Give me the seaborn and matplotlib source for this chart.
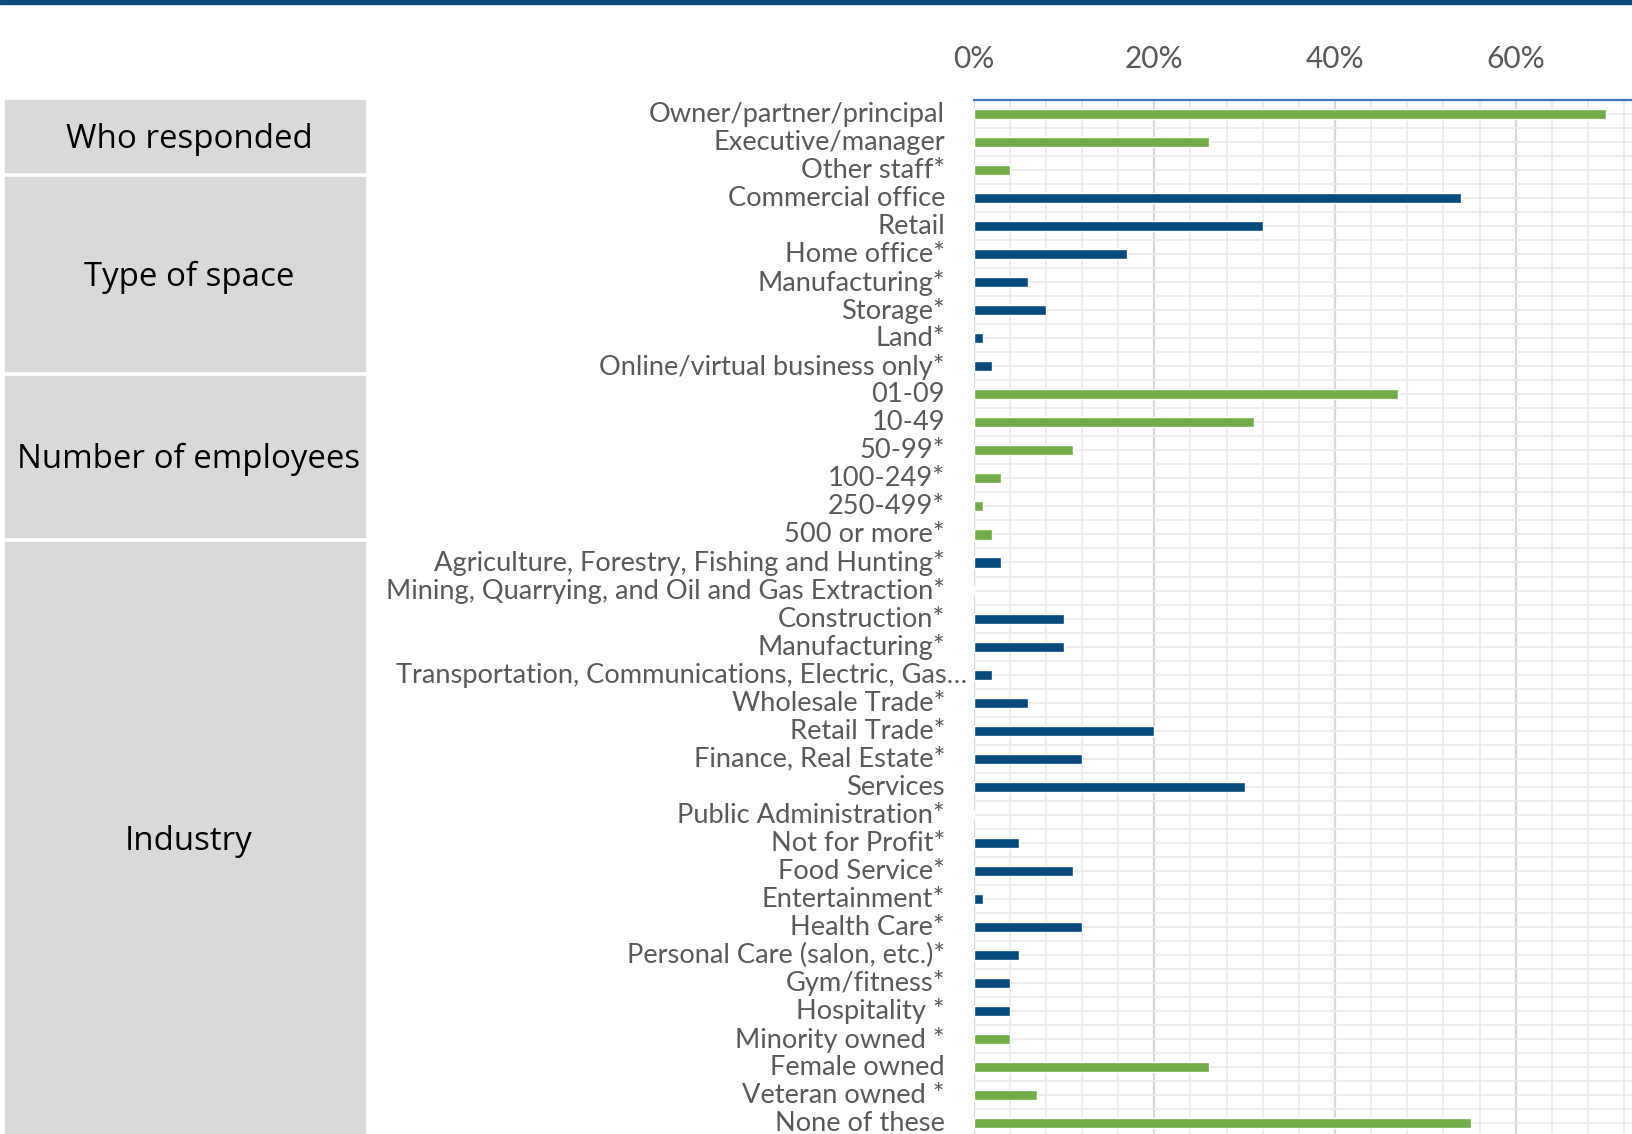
import matplotlib
matplotlib.use("Agg")
import matplotlib.pyplot as plt
import matplotlib.ticker as mticker
from matplotlib.patches import Rectangle
from matplotlib.transforms import ScaledTranslation
import numpy as np
import pandas as pd
import seaborn as sns

# ---- data -------------------------------------------------------------
labels = [
    "Owner/partner/principal", "Executive/manager", "Other staff*",
    "Commercial office", "Retail", "Home office*", "Manufacturing*", "Storage*",
    "Land*", "Online/virtual business only*",
    "01-09", "10-49", "50-99*", "100-249*", "250-499*", "500 or more*",
    "Agriculture, Forestry, Fishing and Hunting*",
    "Mining, Quarrying, and Oil and Gas Extraction*",
    "Construction*", "Manufacturing*",
    "Transportation, Communications, Electric, Gas\u2026",
    "Wholesale Trade*", "Retail Trade*", "Finance, Real Estate*", "Services",
    "Public Administration*", "Not for Profit*", "Food Service*",
    "Entertainment*", "Health Care*", "Personal Care (salon, etc.)*",
    "Gym/fitness*", "Hospitality *",
    "Minority owned *", "Female owned", "Veteran owned *", "None of these",
]
values = [
    0.70, 0.26, 0.04,
    0.54, 0.32, 0.17, 0.06, 0.08, 0.01, 0.02,
    0.47, 0.31, 0.11, 0.03, 0.01, 0.02,
    0.03, 0.00, 0.10, 0.10, 0.02, 0.06, 0.20, 0.12, 0.30,
    0.00, 0.05, 0.11, 0.01, 0.12, 0.05, 0.04, 0.04,
    0.04, 0.26, 0.07, 0.55,
]
groups = (["respondent"] * 3 + ["space"] * 7 + ["employees"] * 6
          + ["industry"] * 17 + ["ownership"] * 4)
group_colors = {
    "respondent": "#70ad47", "employees": "#70ad47", "ownership": "#70ad47",
    "space": "#044a7d", "industry": "#044a7d",
}
panel_titles = ["Who responded", "Type of space", "Number of employees", "Industry"]
x_ticks = [0.0, 0.2, 0.4, 0.6]

df = pd.DataFrame({"row": np.arange(len(labels)), "share": values, "group": groups})

# ---- figure -----------------------------------------------------------
W, H = 1633, 1134
fig = plt.figure(figsize=(W / 100, H / 100), dpi=100)
sns.set_style("white")
plt.rcParams["font.family"] = ["Lato", "DejaVu Sans"]

ax_left = 973.6 / W
ax_top_px, row_px = 100.0, 28.03
n = len(labels)
ax_h = n * row_px
ax = fig.add_axes([ax_left, (H - ax_top_px - ax_h) / H, 1 - ax_left, ax_h / H])

sns.barplot(data=df, x="share", y="row", hue="group", palette=group_colors,
            orient="h", dodge=False, width=0.36, legend=False, ax=ax,
            saturation=1, zorder=3)

ax.set_xlim(0, (W - 973.6) / 9.035 / 100)
ax.set_ylim(n - 0.5, -0.5)
ax.set_xlabel("")
ax.set_ylabel("")

# x axis on top, percent labels
ax.xaxis.tick_top()
ax.set_xticks(x_ticks)
ax.xaxis.set_major_formatter(mticker.PercentFormatter(1.0, decimals=0))
ax.xaxis.set_minor_locator(mticker.MultipleLocator(0.04))
ax.tick_params(axis="x", which="both", length=0, pad=19.5,
               labelsize=21.5, labelcolor="#595959")

# y axis categories
ax.set_yticks(np.arange(n))
ax.set_yticklabels(labels)
ax.yaxis.set_minor_locator(mticker.FixedLocator(np.arange(-0.5, n, 1.0)))
ax.tick_params(axis="y", which="both", length=0, pad=20.6,
               labelsize=19.6, labelcolor="#595959")
# nudge labels up slightly; the truncated industry label sits closer to the axis
for t in ax.get_yticklabels():
    dx = 22 / 100 if t.get_text().endswith("\u2026") else 0
    t.set_transform(t.get_transform()
                    + ScaledTranslation(dx, 2 / 100, fig.dpi_scale_trans))

# grid
ax.set_axisbelow(True)
ax.grid(axis="x", which="major", color="#d6d6d6", lw=1.6, zorder=0)
ax.grid(axis="x", which="minor", color="#ececec", lw=1.3, zorder=0)
ax.grid(axis="y", which="both", color="#ececec", lw=1.3, zorder=0)

for side in ["left", "right", "bottom"]:
    ax.spines[side].set_visible(False)
ax.spines["top"].set_color("#4472c4")
ax.spines["top"].set_linewidth(1.6)

# dark band along the top edge
fig.patches.append(Rectangle((0, 1 - 3.5 / H), 1, 3.5 / H, transform=fig.transFigure,
                             color="#0b4a7e", zorder=5))

# section panels on the left
panels = [(100, 172), (177, 371), (376, 537), (542, H)]
for (y0, y1), title in zip(panels, panel_titles):
    fig.patches.append(Rectangle((5 / W, 1 - y1 / H), 360 / W, (y1 - y0) / H,
                                 transform=fig.transFigure, color="#d9d9d9", zorder=1))
    yc = (y0 + y1) / 2 + 12
    fig.text(189 / W, 1 - yc / H, title, ha="center", va="baseline",
             fontsize=23.8, color="black", family=["Open Sans", "DejaVu Sans"])

fig.savefig("out.png", dpi=100)
